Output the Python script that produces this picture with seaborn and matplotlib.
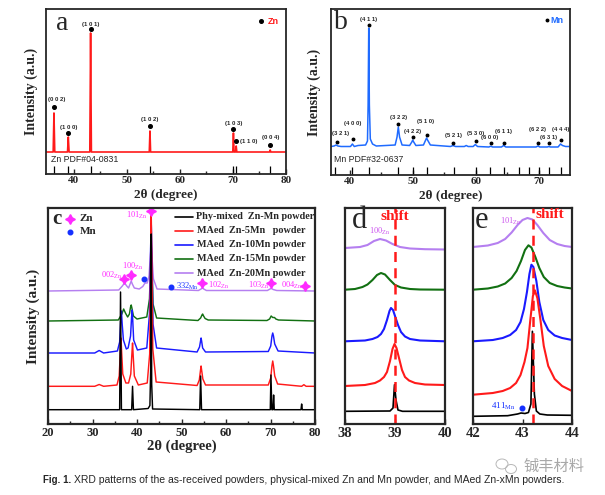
import numpy as np
import pandas as pd
import seaborn as sns
import matplotlib
matplotlib.use("Agg")
from matplotlib import pyplot as plt
from matplotlib.patches import Ellipse

# ---------------- data ----------------
# (a) Zn powder
a_x = [34.8, 36.15, 36.3, 36.45, 38.85, 39.0, 39.15, 43.05, 43.2, 43.35, 54.25, 54.38, 54.5,
       69.98, 70.1, 70.22, 70.5, 70.62, 70.74, 76.9, 77.02, 77.15, 80]
a_y = [22, 22, 61, 22, 22, 37, 22, 22, 141, 22, 22, 43, 22, 22, 41, 22, 22, 28, 22, 22, 24, 22, 22]
a_sticks = [36.3, 39.0, 43.2, 54.3, 70.1, 70.6, 77.0]
a_hkl = ["(0 0 2)", "(1 0 0)", "(1 0 1)", "(1 0 2)", "(1 0 3)", "(1 1 0)", "(0 0 4)"]
a_dot_x = [36.35, 39.0, 43.2, 54.4, 70.1, 70.65, 77.0]
a_dot_y = [67, 41, 145, 48, 45, 33, 29]
a_lab_x = [36.9, 39.0, 43.2, 54.4, 70.1, 71.3, 77.1]
a_lab_y = [75, 47, 150, 54, 51, 33, 36]

# (b) Mn powder
b_x = [37, 37.5, 37.8, 38.1, 38.6, 40.1, 40.4, 40.7, 41.3, 42.5, 42.8, 42.9, 43.0, 43.1, 43.25, 43.6,
       44.2, 47.2, 47.5, 47.7, 47.9, 48.3, 49.5, 49.85, 50.0, 50.15, 50.5, 51.7, 52.05, 52.2, 52.35,
       52.8, 56.0, 56.4, 56.8, 58.2, 58.5, 58.8, 59.6, 59.95, 60.3, 62.1, 62.4, 62.7, 64.1, 64.45,
       64.8, 69.6, 69.9, 70.2, 71.4, 71.6, 71.9, 73.1, 73.5, 73.8, 74.3, 75]
b_y = [28.5, 29, 30, 29, 28.5, 28.5, 31, 28.5, 29.5, 30, 34, 70, 147, 70, 36, 31,
       29, 30, 38, 48, 38, 30, 29.5, 33, 35, 33, 29.5, 30, 35, 37, 35,
       30, 28.5, 29.5, 28.5, 28.5, 29.5, 28.5, 28.5, 30.5, 28.5, 28, 28.8, 28, 28, 29.5,
       28, 28, 29, 28, 28, 28.5, 28, 28, 31, 29.5, 28.5, 28.5]
b_sticks = [37.6, 40.4, 43.0, 47.7, 50.0, 52.2, 56.5, 60.0, 62.3, 64.5, 66.9, 68.5, 70.0, 71.6, 73.5]
b_hkl = ["(3 2 1)", "(4 0 0)", "(4 1 1)", "(3 2 2)", "(4 2 2)", "(5 1 0)", "(5 2 1)",
         "(5 3 0)", "(6 0 0)", "(6 1 1)", "(6 2 2)", "(6 3 1)", "(4 4 4)"]
b_dot_x = [37.9, 40.5, 43.0, 47.7, 50.0, 52.2, 56.4, 60.0, 62.4, 64.5, 69.9, 71.6, 73.6]
b_dot_y = [33, 36, 150, 51, 38, 40, 32, 34, 32, 32.5, 32, 32, 35]
b_lab_x = [38.5, 40.4, 43.0, 47.7, 49.9, 52.1, 56.5, 60.0, 62.3, 64.4, 69.8, 71.6, 73.5]
b_lab_y = [42, 51, 156, 58, 44, 53, 39, 42, 37, 44, 45, 38, 46]

# (c) full patterns, offset stack
c_black_x = [20, 36.1, 36.3, 36.5, 38.8, 39.0, 39.2, 42.5, 42.9, 43.1, 43.2, 43.3, 43.5, 54.1, 54.3,
             54.5, 69.95, 70.1, 70.3, 70.55, 70.7, 70.85, 76.85, 77.0, 77.15, 80]
c_black_y = [14.3, 14.3, 132, 14.3, 14.3, 37.7, 14.3, 15.5, 18.5, 60, 190, 40, 15, 14.3, 48,
             14.3, 14.3, 49, 14.3, 14.3, 29, 14.3, 14.3, 20, 14.3, 14.3]
c_red_x = [20, 30.5, 31.5, 32.5, 35.5, 36.0, 36.25, 36.4, 36.55, 36.8, 37.5, 38.1, 38.6, 38.85,
           39.0, 39.15, 39.4, 40.3, 42.3, 42.85, 43.08, 43.2, 43.32, 43.55, 44.3, 53.5, 54.0,
           54.25, 54.4, 54.55, 54.8, 55.4, 69.5, 70.05, 70.32, 70.5, 70.68, 70.95, 71.6, 77.0,
           77.5, 78.0, 80]
c_red_y = [37.7, 37.7, 39.5, 37.7, 39, 48, 72, 86, 72, 50, 41, 41, 50, 70,
           81, 68, 48, 39, 41, 70, 170, 209, 170, 75, 42, 38.5, 44,
           53, 58, 53, 45, 39, 39, 46, 58, 63, 58, 48, 40, 37.7,
           39.3, 37.7, 37.7]
c_blue_x = [20, 30.5, 31.5, 32.5, 35.6, 36.1, 36.33, 36.5, 36.67, 36.95, 37.6, 38.0, 38.55, 38.77,
            38.9, 39.03, 39.25, 40.1, 42.2, 42.8, 43.05, 43.2, 43.35, 43.6, 44.4, 53.5, 54.05,
            54.28, 54.4, 54.52, 54.75, 55.4, 69.5, 70.05, 70.33, 70.5, 70.67, 70.95, 71.7, 80]
c_blue_y = [71, 71, 73.5, 71, 73, 82, 102, 113, 100, 84, 75, 76, 88, 106,
            114, 105, 84, 74, 76, 110, 175, 201, 175, 100, 76, 72, 77,
            83, 86, 83, 76, 72, 72.5, 78, 88, 91, 88, 80, 73, 71]
c_green_x = [20, 35.8, 36.6, 37.0, 37.4, 37.9, 38.3, 38.55, 38.7, 38.85, 39.2, 40.0, 42.2, 42.8,
             43.05, 43.2, 43.35, 43.6, 44.4, 53.7, 54.3, 54.6, 54.75, 54.9, 55.3, 56.0, 69.2,
             69.8, 70.15, 70.5, 70.9, 71.2, 71.8, 80]
c_green_y = [103, 104, 110, 115, 111, 107, 110, 117, 119, 116, 108, 105, 107, 125,
             160, 176, 160, 120, 106, 103.5, 106, 109, 110, 108.5, 105.5, 104, 103.5,
             105, 108, 106.5, 106.5, 105, 104, 103]
c_purple_x = [20, 35.9, 36.7, 37.2, 37.7, 38.1, 38.45, 38.7, 38.95, 39.4, 40.5, 41.3, 41.8, 42.3,
              42.7, 43.0, 43.2, 43.4, 43.7, 44.5, 53.8, 54.4, 54.7, 55.0, 55.6, 69.3, 69.9,
              70.2, 70.6, 71.4, 80]
c_purple_y = [133, 134, 138, 141, 138, 136, 140, 143, 140, 136, 135, 137.5, 141, 141,
              148, 168, 179, 165, 145, 135, 133.5, 135, 136, 135, 133.5, 133.5, 135,
              135.5, 134.5, 133.5, 133]
c_names = ["Phy-mixed  Zn-Mn powder", "MAed  Zn-5Mn   powder", "MAed  Zn-10Mn powder",
           "MAed  Zn-15Mn powder", "MAed  Zn-20Mn powder"]

# (d) Zn (100) region
d_black_x = [38.0, 38.9, 38.96, 38.99, 39.02, 39.06, 39.15, 40.0]
d_black_y = [12.7, 13, 16, 39.3, 24, 14, 12.7, 12.7]
d_red_x = [38.0, 38.4, 38.6, 38.7, 38.78, 38.84, 38.9, 38.95, 38.99, 39.03, 39.08, 39.14, 39.2,
           39.28, 39.4, 39.6, 40.0]
d_red_y = [38, 39, 41, 43.5, 47, 52, 63, 75, 80, 76, 66, 54, 47, 43.5, 41, 39.5, 39]
d_blue_x = [38.0, 38.4, 38.55, 38.65, 38.72, 38.78, 38.84, 38.89, 38.92, 38.96, 39.0, 39.06, 39.12,
            39.2, 39.3, 39.5, 40.0]
d_blue_y = [82.7, 83.5, 85, 87, 90, 95, 104, 113, 116, 114, 108, 99, 92, 87.5, 85, 83.5, 82.7]
d_green_x = [38.0, 38.2, 38.35, 38.45, 38.55, 38.64, 38.72, 38.8, 38.9, 39.0, 39.12, 39.3, 39.5, 40.0]
d_green_y = [134.3, 135, 137, 139.5, 144, 149, 151, 149.5, 144, 139, 136.5, 135, 134.5, 134.3]
d_purple_x = [38.0, 38.3, 38.45, 38.58, 38.7, 38.82, 38.95, 39.1, 39.3, 39.6, 40.0]
d_purple_y = [176, 177, 179, 183, 185, 183.5, 180, 177, 175.5, 174.8, 174.5]

# (e) Zn (101) region
e_black_x = [42.0, 42.7, 42.9, 42.97, 43.05, 43.12, 43.17, 43.2, 43.24, 43.28, 43.35, 43.5, 44.0]
e_black_y = [7.7, 8.3, 10, 11, 10.5, 11.5, 20, 92.7, 30, 13, 10, 9, 8.7]
e_red_x = [42.0, 42.4, 42.6, 42.75, 42.87, 42.96, 43.04, 43.1, 43.16, 43.21, 43.25, 43.3, 43.36,
           43.43, 43.52, 43.65, 43.8, 44.0]
e_red_y = [29.3, 31, 33, 36, 41, 49, 62, 76, 105, 128, 133.7, 126, 105, 78, 58, 45, 38, 33]
e_blue_x = [42.0, 42.4, 42.6, 42.75, 42.87, 42.96, 43.03, 43.09, 43.14, 43.18, 43.22, 43.28, 43.34,
            43.42, 43.52, 43.65, 43.8, 44.0]
e_blue_y = [82.7, 84, 86, 89, 94, 102, 115, 132, 150, 159.3, 157, 143, 122, 104, 94, 88.5, 86, 84]
e_green_x = [42.0, 42.3, 42.5, 42.65, 42.78, 42.88, 42.97, 43.05, 43.12, 43.18, 43.26, 43.34, 43.43,
             43.55, 43.7, 43.85, 44.0]
e_green_y = [134.3, 135.5, 137.5, 140.5, 146, 153, 163, 174, 178.7, 176.5, 167, 156, 147, 141,
             138, 136.5, 135.5]
e_purple_x = [42.0, 42.3, 42.5, 42.65, 42.78, 42.9, 43.0, 43.1, 43.2, 43.3, 43.42, 43.55, 43.7,
              43.85, 44.0]
e_purple_y = [177, 178.5, 181, 185, 191.5, 199, 204, 206, 204.5, 199, 191, 184, 180, 178, 177]

# ---------------- style ----------------
sns.set_style("ticks")
plt.rcParams['font.family'] = ['Liberation Serif', 'DejaVu Serif']
plt.rcParams['mathtext.fontset'] = 'stix'

BLACK, RED, BLUE, GREEN, PURPLE = "#000000", "#ff1a1a", "#1a1aff", "#127012", "#b57ff0"
MAG = "#ff2aff"
SANS = ['Liberation Sans', 'DejaVu Sans']

W, H = 605, 495
fig = plt.figure(figsize=(W / 100, H / 100), dpi=100)


def box(l, t, r, b):
    return fig.add_axes([l / W, 1 - b / H, (r - l) / W, (b - t) / H])


def curve(ax, x, y, color, lw):
    sns.lineplot(x=x, y=y, ax=ax, color=color, lw=lw, sort=False, estimator=None)


def frame(ax, xlim, ylim, major, minor, fs, lw=1.3, pad=2.5):
    ax.set_xlim(*xlim)
    ax.set_ylim(*ylim)
    ax.set_yticks([])
    ax.set_xticks(major, labels=[str(t) for t in major], fontweight='bold', fontsize=fs)
    ax.set_xticks(minor, minor=True)
    ax.tick_params(axis='x', which='major', direction='in', length=3.5, width=1, pad=pad)
    ax.tick_params(axis='x', which='minor', direction='in', length=2, width=1)
    for s in ax.spines.values():
        s.set_linewidth(lw)
        s.set_visible(True)
    ax.set_xlabel("")
    ax.set_ylabel("")


# ---------------- (a) ----------------
ax = box(46, 9, 286, 174)
curve(ax, a_x, a_y, RED, 1.2)
ax.vlines(a_sticks, 0, 8, color='black', lw=0.9)
ax.plot(a_dot_x, a_dot_y, 'o', color='black', ms=2.6)
for x, y, t in zip(a_lab_x, a_lab_y, a_hkl):
    ax.text(x, y, t, ha='left' if t == "(1 1 0)" else 'center', va='center',
            fontsize=4.3, fontweight='bold', family=SANS)
ax.text(35.8, 15, "Zn PDF#04-0831", fontsize=6.3, family=SANS, va='center')
ax.plot([75.3], [153], 'o', color='black', ms=2.6)
ax.text(76.5, 153, "Zn", color=RED, fontsize=6.5, fontweight='bold', family=SANS, va='center')
ax.text(37.9, 151, "a", fontsize=20, ha='center', va='center')
frame(ax, (34.8, 80), (0, 165), [40, 50, 60, 70, 80], [45, 55, 65, 75], 8, pad=1.5)
ax.set_xlabel("2θ (degree)", fontsize=9.5, fontweight='bold')
ax.xaxis.set_label_coords(0.5, -0.092)
ax.set_ylabel("Intensity (a.u.)", fontsize=10, fontweight='bold')
ax.yaxis.set_label_coords(-0.033, 0.5)

# ---------------- (b) ----------------
ax = box(331, 9, 570, 175)
curve(ax, b_x, b_y, "#1f6bff", 1.1)
ax.vlines(b_sticks, 0, 8, color='black', lw=0.9)
ax.plot(b_dot_x, b_dot_y, 'o', color='black', ms=1.8)
for x, y, t in zip(b_lab_x, b_lab_y, b_hkl):
    ax.text(x, y, t, ha='center', va='center', fontsize=4.2, fontweight='bold', family=SANS)
ax.text(37.5, 16, "Mn PDF#32-0637", fontsize=6.3, family=SANS, va='center')
ax.plot([71.4], [155], 'o', color='black', ms=1.8)
ax.text(71.9, 155, "Mn", color="#1f6bff", fontsize=6.5, fontweight='bold', family=SANS, va='center')
ax.text(38.6, 153, "b", fontsize=20, ha='center', va='center')
frame(ax, (37, 75), (0, 166), [40, 50, 60, 70], [45, 55, 65], 8, pad=1.5)
ax.set_xlabel("2θ (degree)", fontsize=9.5, fontweight='bold')
ax.xaxis.set_label_coords(0.5, -0.09)
ax.set_ylabel("Intensity (a.u.)", fontsize=10, fontweight='bold')
ax.yaxis.set_label_coords(-0.042, 0.5)

# ---------------- (c) ----------------
ax = box(48, 208, 315, 424)
c_x = [c_purple_x, c_green_x, c_blue_x, c_red_x, c_black_x]
c_y = [c_purple_y, c_green_y, c_blue_y, c_red_y, c_black_y]
c_col = [PURPLE, GREEN, BLUE, RED, BLACK]
for x, y, col in zip(c_x, c_y, c_col):
    curve(ax, x, y, col, 1.05)

zn = dict(marker=(4, 1, 0), color=MAG, ms=7, ls='none')
mn = dict(marker='o', color='#1530ff', ms=3.3, ls='none')
ax.plot([37.05, 38.6, 43.06, 54.5, 70.2, 77.8], [145, 149.3, 213.3, 141, 141, 138.3], **zn)
ax.plot([41.6, 47.6], [145.3, 136.7], **mn)
sub = dict(color=MAG, fontsize=6, va='center')
ax.text(36.6, 149, r"002$_{\mathrm{Zn}}$", ha='right', **sub)
ax.text(39.0, 158, r"100$_{\mathrm{Zn}}$", ha='center', **sub)
ax.text(42.4, 208.7, r"101$_{\mathrm{Zn}}$", ha='right', **sub)
ax.text(48.8, 137.5, r"332$_{\mathrm{Mn}}$", ha='left', color='#1530ff', fontsize=6, va='center')
ax.text(56.0, 139, r"102$_{\mathrm{Zn}}$", ha='left', **sub)
ax.text(69.6, 139, r"103$_{\mathrm{Zn}}$", ha='right', **sub)
ax.text(77.1, 139, r"004$_{\mathrm{Zn}}$", ha='right', **sub)

# legend of panel c
rows = [0.96, 0.895, 0.83, 0.765, 0.697]
for yy, col, name in zip(rows, [BLACK, RED, BLUE, GREEN, PURPLE], c_names):
    ax.plot([0.475, 0.543], [yy, yy], color=col, lw=1.2, transform=ax.transAxes)
    ax.text(0.557 if col != BLACK else 0.556, yy, name, transform=ax.transAxes, va='center',
            fontsize=7.3, fontweight='bold')
ax.text(0.033, 0.95, "c", transform=ax.transAxes, fontsize=15, fontweight='bold',
        ha='center', va='center')
ax.plot([0.084], [0.95], transform=ax.transAxes, **zn)
ax.text(0.118, 0.95, "Zn", transform=ax.transAxes, fontsize=8, fontweight='bold', va='center')
ax.plot([0.084], [0.89], transform=ax.transAxes, **mn)
ax.text(0.118, 0.89, "Mn", transform=ax.transAxes, fontsize=8, fontweight='bold', va='center')

frame(ax, (20, 80), (0, 216), [20, 30, 40, 50, 60, 70, 80], [25, 35, 45, 55, 65, 75], 9, lw=1.6)
ax.set_xlabel("2θ (degree)", fontsize=10.5, fontweight='bold')
ax.xaxis.set_label_coords(0.5, -0.072)
ax.set_ylabel("Intensity (a.u.)", fontsize=11, fontweight='bold')
ax.yaxis.set_label_coords(-0.03, 0.5)

# ---------------- (d) ----------------
ax = box(345, 208, 445, 424)
d_x = [d_purple_x, d_green_x, d_blue_x, d_red_x, d_black_x]
d_y = [d_purple_y, d_green_y, d_blue_y, d_red_y, d_black_y]
for x, y, col in zip(d_x, d_y, c_col):
    curve(ax, x, y, col, 1.5 if col != BLACK else 1.2)
ax.axvline(38.99, color=RED, lw=1.8, ls=(0, (4, 2.5)))
ax.text(39.0, 207.5, "shift", color=RED, fontsize=11, fontweight='bold', ha='center', va='center')
ax.text(38.29, 203, "d", fontsize=22, ha='center', va='center')
ax.text(38.7, 193, r"100$_{\mathrm{Zn}}$", color="#cc55ee", fontsize=6, ha='center', va='center')
frame(ax, (38, 40), (0, 216), [38, 39, 40], [], 10.5, lw=1.6)

# ---------------- (e) ----------------
ax = box(473, 208, 572, 424)
e_x = [e_purple_x, e_green_x, e_blue_x, e_red_x, e_black_x]
e_y = [e_purple_y, e_green_y, e_blue_y, e_red_y, e_black_y]
for x, y, col in zip(e_x, e_y, c_col):
    curve(ax, x, y, col, 1.5 if col != BLACK else 1.2)
ax.axvline(43.21, color=RED, lw=1.8, ls=(0, (4, 2.5)))
ax.text(43.55, 209, "shift", color=RED, fontsize=11, fontweight='bold', ha='center', va='center')
ax.text(42.17, 203, "e", fontsize=22, ha='center', va='center')
ax.text(42.75, 203, r"101$_{\mathrm{Zn}}$", color="#cc55ee", fontsize=6, ha='center', va='center')
ax.text(42.6, 17.5, r"411$_{\mathrm{Mn}}$", color='#1530ff', fontsize=6.5, ha='center', va='center')
ax.plot([42.98], [16], **mn)
frame(ax, (42, 44), (0, 216), [42, 43, 44], [], 10.5, lw=1.6)

# ---------------- caption & watermark ----------------
fig.text(43 / W, 1 - 480 / H, "Fig. 1.", fontsize=7, fontweight='bold', family=SANS, va='center')
fig.text(74 / W, 1 - 480 / H,
         "XRD patterns of the as-received powders, physical-mixed Zn and Mn powder, "
         "and MAed Zn-xMn powders.", fontsize=7.45, family=SANS, va='center')
fig.text(524 / W, 1 - 466 / H, "铖丰材料", fontsize=11, color='#a8a8a8',
         family=['Noto Sans CJK SC', 'DejaVu Sans'], va='center')
fig.add_artist(Ellipse((502 / W, 1 - 464 / H), 12 / W, 10 / H, transform=fig.transFigure,
                       fill=False, ec='#b8b8b8', lw=0.7))
fig.add_artist(Ellipse((511 / W, 1 - 469 / H), 11 / W, 9 / H, transform=fig.transFigure,
                       fill=False, ec='#b8b8b8', lw=0.7))

fig.savefig("out.png", dpi=100)
